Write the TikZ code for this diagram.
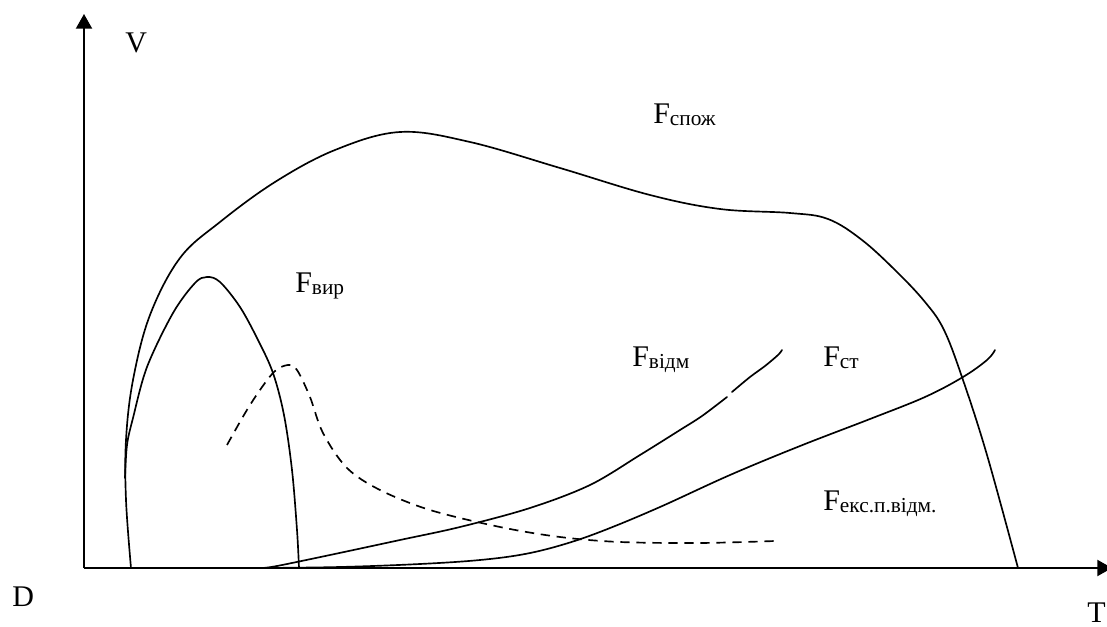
\documentclass[tikz,border=0pt]{standalone}
\usepackage{fontspec}
\setmainfont{Liberation Serif}
\usetikzlibrary{arrows.meta}
\newcommand\mainsz{\fontsize{22.5}{27}\selectfont}
\newcommand\subsz{\fontsize{16}{19}\selectfont}
\newcommand\flabel[1]{{\mainsz F}{\subsz\raisebox{-1.5pt}{#1}}}
\tikzset{
  axisline/.style={line width=1.5pt,-{Triangle[length=11pt,width=12pt]}},
  curve/.style={line width=1.25pt,line cap=round},
  dcurve/.style={line width=1.25pt,dash pattern=on 7pt off 5pt},
  lbl/.style={anchor=base west,inner sep=0pt,font=\mainsz}
}
\begin{document}
\begin{tikzpicture}[x=0.75pt,y=-0.75pt]
\useasboundingbox (0,0) rectangle (1107,627);
\coordinate (O) at (84,568);
\coordinate (ytip) at (84,14);
\coordinate (xtip) at (1112,568);
\draw[axisline] (O) -- (ytip);
\draw[axisline] (O) -- (xtip);
% F_spozh
\draw[curve] plot[smooth,tension=0.6] coordinates {(131,568) (126,500) (126,440) (133,380) (150,315) (180,258) (220,222) (275,182) (335,150) (400,132) (470,142) (560,168) (650,195) (720,209) (790,213) (828,219) (862,240) (897,272) (925,302) (944,330) (963,380) (987,455) (1018,568)};
% F_vyr
\draw[curve] plot[smooth,tension=0.55] coordinates {(125,478) (127,445) (133,418) (147,367) (173,313) (195,283) (207,277) (220,282) (240,307) (258,340) (273,373) (284,415) (292,470) (297,530) (299,568)};
% dashed
\draw[dcurve] plot[smooth,tension=0.55] coordinates {(227,445) (250,405) (273,373) (288,365) (297,370) (310,397) (323,433) (347,468) (380,490) (430,510) (500,527) (560,537) (620,542) (700,543) (775,541)};
% F_vidm
\draw[curve] plot[smooth,tension=0.55] coordinates {(262,568) (277,566) (330,555) (400,540) (460,527) (530,508) (590,485) (640,455) (680,430) (702,416) (727,397)};
\draw[curve] plot[smooth,tension=0.55] coordinates {(732,392) (750,377) (765,366) (778,355) (782,350)};
% F_st
\draw[curve] plot[smooth,tension=0.6] coordinates {(262,568) (340,567) (420,564) (480,560) (525,554) (565,544) (605,530) (660,507) (730,475) (800,446) (870,419) (925,397) (963,377) (987,360) (995,350)};
% labels
\node[lbl] (V) at (125,53) {V};
\node[lbl] (D) at (12,606) {D};
\node[lbl] (T) at (1087,622) {T};
\node[lbl] (Fsp) at (653,124) {\flabel{спож}};
\node[lbl] (Fvyr) at (295,293) {\flabel{вир}};
\node[lbl] (Fvidm) at (632,367) {\flabel{відм}};
\node[lbl] (Fst) at (823,367) {\flabel{ст}};
\node[lbl] (Feks) at (823,510) {\flabel{екс.п.відм.}};
\end{tikzpicture}
\end{document}
